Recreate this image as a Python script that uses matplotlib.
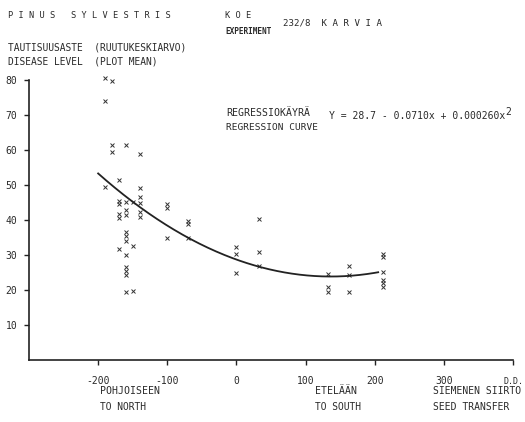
import matplotlib
matplotlib.use("Agg")
import matplotlib.pyplot as plt
import numpy as np

# ---- data ----
transfer_x = ([-190] * 3 + [-180] * 3 + [-170] * 6 + [-160] * 12 + [-150] * 3 +
              [-140] * 6 + [-100] * 3 + [-70] * 3 + [0] * 3 + [32] * 3 +
              [133] * 3 + [163] * 3 + [212] * 6)
disease_y = [80.5, 74.0, 49.5,
             79.8, 61.4, 59.3,
             51.4, 45.4, 44.5, 41.6, 40.5, 31.6,
             61.4, 45.2, 42.9, 41.4, 36.7, 35.5, 34.1, 30.0, 26.7, 25.4, 24.3, 19.5,
             45.2, 32.6, 19.8,
             58.9, 49.2, 46.5, 45.0, 42.2, 40.8,
             44.5, 43.3, 34.8,
             39.8, 38.8, 34.8,
             32.2, 30.3, 24.9,
             40.2, 30.8, 26.9,
             24.7, 20.9, 19.5,
             26.9, 24.3, 19.5,
             30.3, 29.3, 25.2, 22.9, 21.9, 20.8]
coef = [28.7, -0.0710, 0.000260]
curve_range = [-200, 205]
x_ticks = [-200, -100, 0, 100, 200, 300]
y_ticks = [10, 20, 30, 40, 50, 60, 70, 80]

W, H = 525, 422
TXT = "#2a2a2a"
FONT = "DejaVu Sans Mono"
plt.rcParams["font.family"] = FONT

fig = plt.figure(figsize=(W / 100, H / 100), dpi=100)
fig.patch.set_facecolor("white")

def px(x, y):
    return x / W, 1 - y / H

l, r, t, b = 29, 513, 80, 360
ax = fig.add_axes([l / W, 1 - b / H, (r - l) / W, (b - t) / H])
ax.set_xlim(-300, 400)
ax.set_ylim(0, 80)
for s in ["top", "right"]:
    ax.spines[s].set_visible(False)
for s in ["left", "bottom"]:
    ax.spines[s].set_linewidth(1.2)
    ax.spines[s].set_color("#222222")

ax.set_xticks(x_ticks + [400])
ax.set_xticklabels([str(v) for v in x_ticks] + [""])
ax.set_yticks(y_ticks)
ax.set_yticklabels([str(v) for v in y_ticks])
ax.tick_params(axis="both", direction="out", length=3.5, width=1.0,
               colors="#222222", labelcolor=TXT, labelsize=7)
ax.tick_params(axis="x", pad=8)
ax.tick_params(axis="y", pad=5)

ax.plot(transfer_x, disease_y, linestyle="none", marker="x", markersize=3.2,
        markeredgewidth=0.7, color="#333333", clip_on=False)

xc = np.linspace(curve_range[0], curve_range[1], 300)
yc = coef[0] + coef[1] * xc + coef[2] * xc ** 2
ax.plot(xc, yc, color="#222222", linewidth=1.3)

def ftext(x, y, s, size=7, **kw):
    return fig.text(*px(x, y), s, fontsize=size, color=TXT, va="center",
                    ha=kw.pop("ha", "left"), **kw)

ftext(8, 16, "P I N U S   S Y L V E S T R I S", size=6.2)
ftext(225, 16, "K O E", size=6.2)
ftext(225, 31, "EXPERIMENT", size=5.6, fontweight="bold")
ftext(283, 23, "232/8  K A R V I A", size=6.6)
ftext(8, 47, "TAUTISUUSASTE  (RUUTUKESKIARVO)", size=6.9)
ftext(8, 61, "DISEASE LEVEL  (PLOT MEAN)", size=6.9)
ftext(226, 113, "REGRESSIOKÄYRÄ", size=7.1)
ftext(226, 127, "REGRESSION CURVE", size=6.8)
eq = ftext(329, 116, "Y = 28.7 - 0.0710x + 0.000260x", size=7.0)
ftext(100, 391, "POHJOISEEN", size=7.1)
ftext(100, 407, "TO NORTH", size=6.9)
ftext(315, 391, "ETELÄÄN", size=7.1)
ftext(315, 407, "TO SOUTH", size=6.9)
ftext(433, 391, "SIEMENEN SIIRTO", size=7.0)
ftext(433, 407, "SEED TRANSFER", size=7.0)
ftext(503, 381, "D.D.", size=6.0)

fig.canvas.draw()
bb = eq.get_window_extent()
fig.text(bb.x1 / W, 1 - 112 / H, "2", fontsize=7.0, color=TXT,
         va="center", ha="left")

fig.savefig("out.png", dpi=100, facecolor="white")
